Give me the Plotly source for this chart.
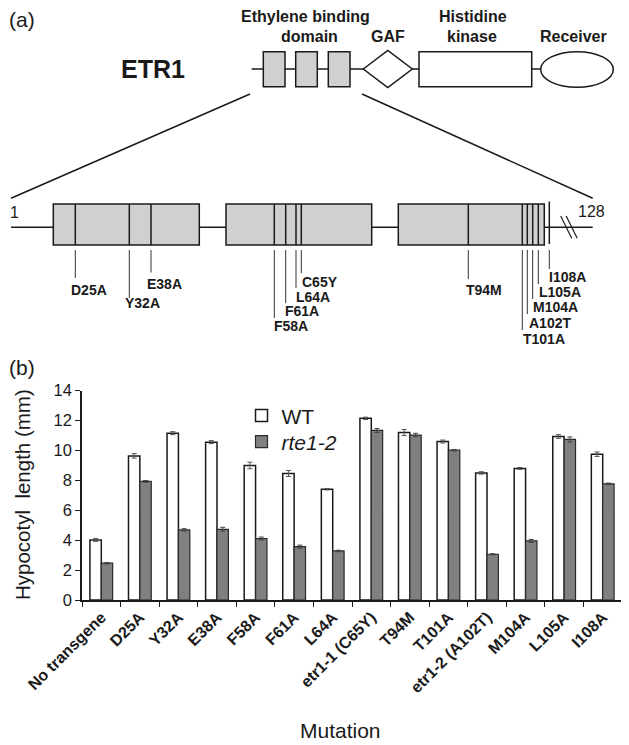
import plotly.graph_objects as go

# ---------------- data ----------------
categories = ["No transgene", "D25A", "Y32A", "E38A", "F58A", "F61A", "L64A",
              "etr1-1 (C65Y)", "T94M", "T101A", "etr1-2 (A102T)", "M104A", "L105A", "I108A"]
wt_values = [4.02, 9.64, 11.16, 10.56, 9.00, 8.46, 7.41, 12.15, 11.20, 10.60, 8.50, 8.80, 10.94, 9.75]
wt_errors = [0.10, 0.15, 0.10, 0.10, 0.22, 0.20, 0.05, 0.08, 0.20, 0.10, 0.08, 0.06, 0.12, 0.15]
rte_values = [2.46, 7.93, 4.69, 4.73, 4.11, 3.57, 3.28, 11.34, 11.03, 10.02, 3.06, 3.95, 10.74, 7.77]
rte_errors = [0.05, 0.06, 0.08, 0.13, 0.10, 0.10, 0.05, 0.13, 0.12, 0.05, 0.04, 0.10, 0.17, 0.05]
series_names = ["WT", "<i>rte1-2</i>"]
y_ticks = [0, 2, 4, 6, 8, 10, 12, 14]

domain_names = ["Ethylene binding", "domain", "GAF", "Histidine", "kinase", "Receiver"]
mutation_labels = ["D25A", "Y32A", "E38A", "F58A", "F61A", "L64A", "C65Y",
                   "T94M", "T101A", "A102T", "M104A", "L105A", "I108A"]

# ---------------- diagram layout (schematic, page pixel units) ----------------
PAGE_W, PAGE_H = 629, 745
OFF = 8                      # default page margin around the figure
W, H = PAGE_W - OFF, PAGE_H - OFF
mut_line_x = [75.3, 129.3, 151.0, 274.3, 285.7, 296.0, 301.3, 468.3, 522.3, 527.3, 532.7, 538.3, 549.3]
mut_line_end = [278, 298, 272.5, 318, 303, 288, 273, 279, 330, 314, 299, 284, 269]
mut_label_x = [70, 124, 146, 272.5, 284, 295, 301, 465, 521.5, 527.5, 532, 537.5, 548]
mut_label_y = [290, 302.7, 284.3, 325.7, 310.7, 296.7, 281.7, 290, 339, 322.7, 307.3, 291.7, 276.7]

FONT = "Liberation Sans"
INK = "#1a1a1a"
shapes = []
annots = []

def X(x):
    return (x - OFF) / W

def Y(y):
    return 1 - (y - OFF) / H

def line(x0, y0, x1, y1, w=1.5, c=INK):
    shapes.append(dict(type="line", xref="paper", yref="paper", x0=X(x0), y0=Y(y0), x1=X(x1), y1=Y(y1),
                       line=dict(color=c, width=w)))

def rect(x0, y0, x1, y1, fill, w=1.5):
    shapes.append(dict(type="rect", xref="paper", yref="paper", x0=X(x0), y0=Y(y0), x1=X(x1), y1=Y(y1),
                       fillcolor=fill, line=dict(color=INK, width=w)))

def text(x, y, s, size, bold=False, anchor="center", angle=0):
    annots.append(dict(xref="paper", yref="paper", x=X(x), y=Y(y), text=s, showarrow=False,
                       xanchor=anchor, yanchor="middle", textangle=angle, borderpad=0,
                       font=dict(family=FONT, size=size, color=INK,
                                 weight="bold" if bold else "normal")))

GRAY = "#d0d0d0"
# --- top overview
line(251.7, 69, 540.7, 69)
for x0, x1 in [(263.3, 285), (295.7, 317.3), (328.3, 350)]:
    rect(x0, 51.7, x1, 86.7, GRAY)
pts = [(363.3, 69), (387.8, 50.5), (412.3, 69), (387.8, 87.5)]
shapes.append(dict(type="path", xref="paper", yref="paper",
                   path="M" + " L".join(f"{X(a):.5f},{Y(b):.5f}" for a, b in pts) + " Z",
                   fillcolor="white", line=dict(color=INK, width=1.5)))
rect(419, 51.7, 531.7, 86.7, "white")
shapes.append(dict(type="circle", xref="paper", yref="paper", x0=X(540.7), y0=Y(51.7), x1=X(613.3), y1=Y(87.3),
                   fillcolor="white", line=dict(color=INK, width=1.5)))
text(305.8, 16.7, domain_names[0], 16, True)
text(309, 36, domain_names[1], 16, True)
text(388, 36, domain_names[2], 16, True)
text(473.3, 16.7, domain_names[3], 16, True)
text(471.7, 36, domain_names[4], 16, True)
text(573.7, 36, domain_names[5], 16, True)
text(153, 69, "ETR1", 25, True)
text(8, 19, "(a)", 21, False, "left")

# zoom lines
line(250, 94, 11, 198.3)
line(362, 94, 592.7, 198.3)

# --- detail
line(11, 227.3, 592.7, 227.3)
for x0, x1 in [(53.3, 199.3), (226, 371.7), (398.3, 544.3)]:
    rect(x0, 204, x1, 245, GRAY)
line(560.7, 216, 571.7, 238.3, 1.2)
line(566.2, 216, 577.2, 238.3, 1.2)
text(8.5, 212, "1", 16, False, "left")
text(591.5, 211.7, "128", 16, False, "center")
for i, lab in enumerate(mutation_labels):
    x = mut_line_x[i]
    if lab == "I108A":
        line(x, 201.5, x, 244, 1.5)
    else:
        line(x, 204, x, 245, 1.5)
    line(x, 250, x, mut_line_end[i], 1, "#333333")
    text(mut_label_x[i], mut_label_y[i], lab, 14, True, "left")
text(8, 367, "(b)", 21, False, "left")

# ---------------- bar chart ----------------
fig = go.Figure()
fig.add_trace(go.Bar(x=categories, y=wt_values, name=series_names[0], legend="legend",
                     marker=dict(color="white", line=dict(color=INK, width=1.5)),
                     error_y=dict(type="data", array=wt_errors, color="#555555",
                                  thickness=1, width=2.5)))
fig.add_trace(go.Bar(x=categories, y=rte_values, name=series_names[1], legend="legend2",
                     marker=dict(color="#808080", line=dict(color="#2a2a2a", width=1.2)),
                     error_y=dict(type="data", array=rte_errors, color="#444444",
                                  thickness=1, width=2.5)))

px_left, px_right, px_top, px_bottom = 82, 622, 390.7, 600
text(22, 495, "Hypocotyl  length (mm)", 20.5, False, "center", -90)
text(340, 730, "Mutation", 21, False, "center")

leg_common = dict(xanchor="left", yanchor="top", bgcolor="rgba(0,0,0,0)",
                  font=dict(family=FONT, size=21, color=INK))
fig.update_layout(
    template="none",
    width=W, height=H, margin=dict(l=0, r=0, t=0, b=0, autoexpand=False),
    plot_bgcolor="white", paper_bgcolor="white",
    barmode="group", bargap=0.41, bargroupgap=0,
    showlegend=True,
    legend=dict(x=X(241.5), y=Y(395.3), **leg_common),
    legend2=dict(x=X(241.5), y=Y(421.5), **leg_common),
    xaxis=dict(domain=[X(px_left), X(px_right)], anchor="y", type="category", automargin=False,
               tickson="boundaries", ticks="outside", ticklen=5, tickwidth=1.2, tickcolor=INK,
               showline=True, linecolor=INK, linewidth=1.5, showgrid=False, zeroline=False,
               tickangle=-45,
               tickfont=dict(family=FONT, size=16, color=INK, weight="bold")),
    yaxis=dict(domain=[Y(px_bottom), Y(px_top)], anchor="x", range=[0, 14], automargin=False,
               tickvals=y_ticks, ticks="outside", ticklen=5, tickwidth=1.2, tickcolor=INK,
               showline=True, linecolor=INK, linewidth=1.5, showgrid=False, zeroline=False,
               tickfont=dict(family=FONT, size=16.5, color=INK)),
    shapes=shapes, annotations=annots,
)
fig.write_html("out.html")
